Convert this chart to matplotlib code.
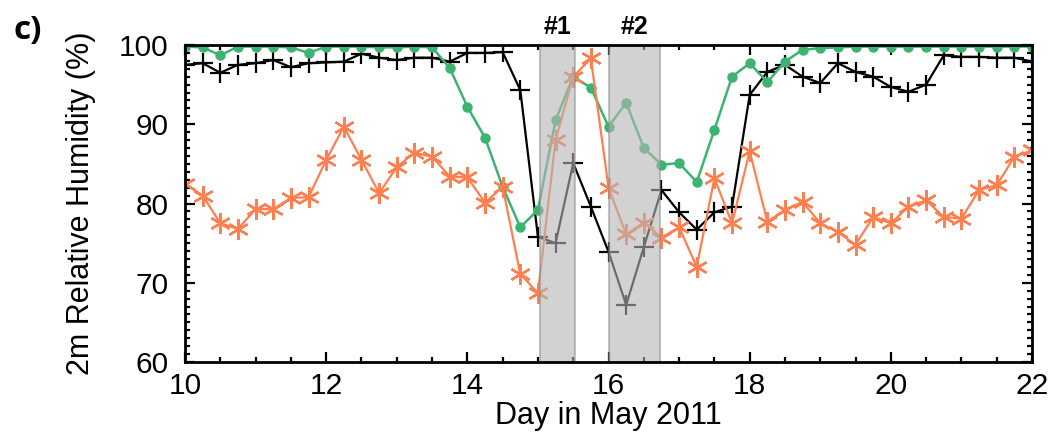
import matplotlib
matplotlib.use("Agg")
import matplotlib.pyplot as plt
from matplotlib.ticker import MultipleLocator

plt.rcParams['font.family'] = ['Liberation Sans', 'DejaVu Sans']

days = [10.0, 10.25, 10.5, 10.75, 11.0, 11.25, 11.5, 11.75,
        12.0, 12.25, 12.5, 12.75, 13.0, 13.25, 13.5, 13.75,
        14.0, 14.25, 14.5, 14.75, 15.0, 15.25, 15.5, 15.75,
        16.0, 16.25, 16.5, 16.75, 17.0, 17.25, 17.5, 17.75,
        18.0, 18.25, 18.5, 18.75, 19.0, 19.25, 19.5, 19.75,
        20.0, 20.25, 20.5, 20.75, 21.0, 21.25, 21.5, 21.75, 22.0]

rh_black = [97.5, 97.7, 96.5, 97.5, 97.7, 98.1, 97.2, 97.7,
            97.8, 97.9, 98.9, 98.4, 98.1, 98.4, 98.4, 97.9,
            99.0, 99.0, 99.1, 94.3, 75.8, 75.0, 85.1, 79.6,
            73.9, 67.2, 74.5, 81.7, 78.9, 76.7, 78.9, 79.6,
            93.7, 96.6, 97.5, 96.0, 95.2, 97.7, 96.6, 96.0,
            94.7, 94.1, 95.0, 98.7, 98.5, 98.5, 98.4, 98.4, 97.9]

rh_green = [99.8, 99.7, 98.7, 99.8, 99.8, 99.8, 99.7, 99.0,
            99.8, 99.8, 99.8, 99.7, 99.7, 99.8, 99.7, 97.1,
            92.2, 88.3, 82.1, 77.0, 79.2, 90.5, 96.0, 94.6,
            89.7, 92.7, 87.0, 84.9, 85.1, 82.7, 89.3, 96.0,
            97.7, 95.3, 97.9, 99.4, 99.6, 99.7, 99.8, 99.8,
            99.8, 99.8, 99.8, 99.8, 99.8, 99.8, 99.8, 99.8, 99.8]

rh_orange = [82.5, 81.0, 77.5, 76.8, 79.3, 79.3, 80.7, 80.8,
             85.5, 89.7, 85.5, 81.3, 84.6, 86.4, 85.9, 83.4,
             83.3, 80.1, 82.1, 71.1, 68.7, 88.0, 96.0, 98.3,
             82.0, 76.1, 77.6, 75.7, 77.0, 72.0, 83.2, 77.5,
             86.6, 77.7, 79.2, 80.2, 77.5, 76.4, 74.8, 78.3,
             77.5, 79.6, 80.4, 78.3, 78.1, 81.7, 82.3, 85.9, 86.7]

events = ['#1', '#2']
event_start = [15.03, 16.0]
event_end = [15.53, 16.73]

fig = plt.figure(figsize=(10.55, 4.36), dpi=100)
ax = fig.add_axes([0.1754, 0.1697, 0.8028, 0.7271])

ax.plot(days, rh_black, color='black', lw=1.6, marker='+', ms=15, mew=1.6, zorder=3)
ax.plot(days, rh_green, color='#3cb371', lw=1.8, marker='o', ms=6.5, zorder=3)
ax.plot(days, rh_orange, color='#ff7f50', lw=1.6, marker=(6, 2, 0), ms=15, mew=1.7, zorder=4)

for lab, s, e in zip(events, event_start, event_end):
    ax.axvspan(s, e, facecolor='#b5b5b5', edgecolor='#8a8a8a', lw=1.2, alpha=0.6, zorder=5)
    ax.text((s + e) / 2, 1.02, lab, transform=ax.get_xaxis_transform(),
            ha='center', va='bottom', fontsize=18, fontweight='bold')

ax.set_xlim(10, 22)
ax.set_ylim(60, 100)
ax.xaxis.set_major_locator(MultipleLocator(2))
ax.xaxis.set_minor_locator(MultipleLocator(0.5))
ax.yaxis.set_major_locator(MultipleLocator(10))
ax.yaxis.set_minor_locator(MultipleLocator(1))
ax.tick_params(which='both', direction='in', top=True, right=True, width=1.6,
               labelsize=21.5, color='black')
ax.tick_params(which='major', length=7)
ax.tick_params(which='minor', length=3.5)
ax.tick_params(axis='y', which='major', pad=12)
ax.tick_params(axis='x', which='major', pad=7)
for sp in ax.spines.values():
    sp.set_linewidth(2)
    sp.set_zorder(6)

ax.set_xlabel('Day in May 2011', fontsize=22, labelpad=1)
ax.set_ylabel('2m Relative Humidity (%)', fontsize=22)
ax.yaxis.set_label_coords(-0.105, 0.5)

fig.text(0.013, 0.93, 'c)', fontsize=24, fontweight='bold', family=['Open Sans', 'DejaVu Sans'],
         ha='left', va='center')

fig.savefig('out.png', dpi=100)
